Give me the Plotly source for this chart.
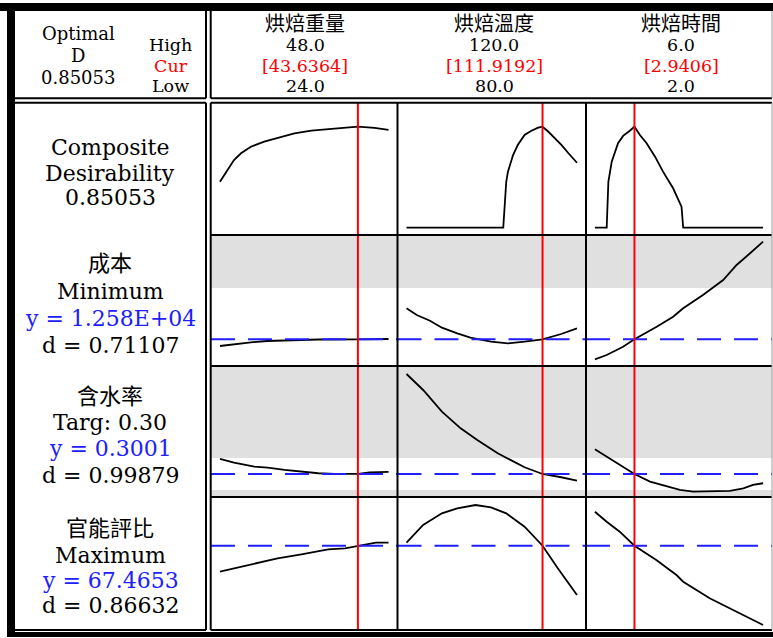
import plotly.graph_objects as go

# ---------------- data ----------------
factor_names = ["烘焙重量", "烘焙溫度", "烘焙時間"]
factor_high = ["48.0", "120.0", "6.0"]
factor_low = ["24.0", "80.0", "2.0"]
factor_cur_text = ["[43.6364]", "[111.9192]", "[2.9406]"]
factor_lo_val = [24.0, 80.0, 2.0]
factor_hi_val = [48.0, 120.0, 6.0]
factor_cur = [43.6364, 111.9192, 2.9406]

optimal_d = "0.85053"

# Composite desirability
cd_weight_x = [24.0, 24.6, 25.3, 26.0, 27.0, 28.4, 30.3, 32.2, 34.6, 37.0, 39.4, 42.2, 43.64, 46.0, 48.0]
cd_weight_y = [0.387, 0.444, 0.514, 0.570, 0.627, 0.682, 0.724, 0.758, 0.795, 0.817, 0.831, 0.842, 0.8505, 0.840, 0.823]
cd_temp_x = [80.0, 102.7, 103.4, 103.8, 105.0, 106.1, 107.7, 109.3, 110.9, 111.92, 113.3, 114.8, 116.4, 118.0, 120.0]
cd_temp_y = [0.0, 0.0, 0.387, 0.472, 0.612, 0.696, 0.781, 0.817, 0.842, 0.8505, 0.808, 0.753, 0.696, 0.627, 0.547]
cd_time_x = [2.0, 2.28, 2.32, 2.40, 2.55, 2.67, 2.83, 2.94, 3.07, 3.23, 3.43, 3.62, 3.86, 4.06, 4.10, 6.0]
cd_time_y = [0.0, 0.0, 0.387, 0.556, 0.711, 0.773, 0.817, 0.8505, 0.781, 0.711, 0.598, 0.472, 0.332, 0.177, 0.0, 0.0]

# 成本 (cost)
cost_weight_x = [24.0, 26.0, 28.4, 30.7, 34.6, 38.0, 43.64, 48.0]
cost_weight_y = [12513, 12533, 12550, 12563, 12573, 12578, 12580, 12583]
cost_temp_x = [80.0, 82.4, 85.5, 88.3, 91.9, 95.0, 99.8, 103.8, 107.7, 111.92, 116.3, 120.0]
cost_temp_y = [12890, 12823, 12766, 12696, 12640, 12596, 12556, 12540, 12556, 12580, 12633, 12690]
cost_time_x = [2.0, 2.28, 2.67, 2.94, 3.47, 3.86, 4.10, 4.57, 5.05, 5.37, 5.69, 6.0]
cost_time_y = [12380, 12423, 12506, 12580, 12706, 12806, 12890, 13023, 13173, 13323, 13440, 13556]

# 含水率 (moisture)
moist_weight_x = [24.0, 26.0, 28.9, 30.8, 33.2, 35.6, 38.0, 40.3, 43.64, 45.3, 48.0]
moist_weight_y = [0.3189, 0.3142, 0.3092, 0.3080, 0.3051, 0.3030, 0.3010, 0.3001, 0.3001, 0.3022, 0.3026]
moist_temp_x = [80.0, 83.9, 88.3, 92.7, 96.6, 101.4, 107.7, 111.92, 116.3, 120.0]
moist_temp_y = [0.4251, 0.4051, 0.3780, 0.3572, 0.3426, 0.3260, 0.3085, 0.3001, 0.2960, 0.2917]
moist_time_x = [2.0, 2.28, 2.59, 2.94, 3.31, 3.70, 4.02, 4.34, 4.73, 5.21, 5.53, 5.76, 6.0]
moist_time_y = [0.3310, 0.3217, 0.3114, 0.3001, 0.2905, 0.2851, 0.2801, 0.2780, 0.2780, 0.2789, 0.2822, 0.2864, 0.2885]

# 官能評比 (sensory score)
sens_weight_x = [24.0, 27.0, 30.3, 32.2, 35.6, 39.4, 41.8, 43.64, 46.2, 48.0]
sens_weight_y = [64.87, 65.37, 65.87, 66.21, 66.61, 67.11, 67.21, 67.47, 67.77, 67.77]
sens_temp_x = [80.0, 83.9, 88.3, 91.9, 96.2, 99.8, 103.4, 107.7, 111.92, 115.5, 120.0]
sens_temp_y = [67.77, 69.54, 70.71, 71.21, 71.54, 71.31, 70.71, 69.37, 67.47, 65.21, 62.54]
sens_time_x = [2.0, 2.28, 2.59, 2.94, 3.46, 3.94, 4.10, 4.73, 5.05, 5.53, 6.0]
sens_time_y = [70.87, 69.87, 68.87, 67.47, 66.04, 64.54, 63.87, 62.21, 61.54, 60.54, 59.54]

# response current values (blue dashed) and spec bounds (grey = d of 0)
resp_current = [None, 12580, 0.3001, 67.4653]
cost_upper = 13093
moist_lower = 0.28
moist_upper = 0.32

label_lines = [
    [("Composite", "black"), ("Desirability", "black"), ("0.85053", "black")],
    [("成本", "black"), ("Minimum", "black"), ("y = 1.258E+04", "blue"), ("d = 0.71107", "black")],
    [("含水率", "black"), ("Targ: 0.30", "black"), ("y = 0.3001", "blue"), ("d = 0.99879", "black")],
    [("官能評比", "black"), ("Maximum", "black"), ("y = 67.4653", "blue"), ("d = 0.86632", "black")],
]

curves = [
    [(cd_weight_x, cd_weight_y), (cd_temp_x, cd_temp_y), (cd_time_x, cd_time_y)],
    [(cost_weight_x, cost_weight_y), (cost_temp_x, cost_temp_y), (cost_time_x, cost_time_y)],
    [(moist_weight_x, moist_weight_y), (moist_temp_x, moist_temp_y), (moist_time_x, moist_time_y)],
    [(sens_weight_x, sens_weight_y), (sens_temp_x, sens_temp_y), (sens_time_x, sens_time_y)],
]

# ---------------- layout geometry (pixels) ----------------
W, H = 773, 638
col_px = [211.0, 397.5, 586.0, 772.0]
row_px = [102.7, 235.0, 366.0, 497.0, 630.0]
y_ranges = [[-0.0615, 1.0526], [12313, 13623], [0.2713, 0.4351], [59.04, 72.34]]

def px(x):
    return x / W

def py(y):
    return 1 - y / H

BLUE = "#2020ff"
RED = "#ff0000"
GRAY = "#e0e0e0"
FONT = "DejaVu Serif, Noto Sans CJK TC, serif"

fig = go.Figure()
layout = dict(
    width=W, height=H, margin=dict(l=0, r=0, t=0, b=0),
    paper_bgcolor="white", plot_bgcolor="rgba(0,0,0,0)", showlegend=False,
)
shapes = []
annotations = []

for r in range(4):
    for c in range(3):
        n = r * 3 + c + 1
        sfx = "" if n == 1 else str(n)
        span = factor_hi_val[c] - factor_lo_val[c]
        pad = 0.053 * span
        layout["xaxis" + sfx] = dict(
            domain=[px(col_px[c]), px(col_px[c + 1])],
            range=[factor_lo_val[c] - pad, factor_hi_val[c] + pad],
            showgrid=False, zeroline=False, showticklabels=False, showline=False,
            ticks="", anchor="y" + sfx, fixedrange=True,
        )
        layout["yaxis" + sfx] = dict(
            domain=[py(row_px[r + 1]), py(row_px[r])],
            range=y_ranges[r],
            showgrid=False, zeroline=False, showticklabels=False, showline=False,
            ticks="", anchor="x" + sfx, fixedrange=True,
        )
        xs, ys = curves[r][c]
        fig.add_trace(go.Scatter(
            x=xs, y=ys, mode="lines", xaxis="x" + sfx, yaxis="y" + sfx,
            line=dict(color="black", width=1.8), hoverinfo="skip",
        ))
        xd = "x" + sfx + " domain"
        # grey bands (desirability zero)
        if r == 1:
            shapes.append(dict(type="rect", xref=xd, yref="y" + sfx, x0=0, x1=1,
                               y0=cost_upper, y1=y_ranges[r][1], fillcolor=GRAY,
                               line=dict(width=0), layer="below"))
        if r == 2:
            shapes.append(dict(type="rect", xref=xd, yref="y" + sfx, x0=0, x1=1,
                               y0=moist_upper, y1=y_ranges[r][1], fillcolor=GRAY,
                               line=dict(width=0), layer="below"))
            shapes.append(dict(type="rect", xref=xd, yref="y" + sfx, x0=0, x1=1,
                               y0=y_ranges[r][0], y1=moist_lower, fillcolor=GRAY,
                               line=dict(width=0), layer="below"))
        # blue dashed current response line
        if resp_current[r] is not None:
            shapes.append(dict(type="line", xref=xd, yref="y" + sfx, x0=0, x1=1,
                               y0=resp_current[r], y1=resp_current[r],
                               line=dict(color=BLUE, width=2, dash="24px,13px")))

# red vertical current-setting lines
for c in range(3):
    sfx = "" if c == 0 else str(c + 1)
    shapes.append(dict(type="line", xref="x" + sfx, yref="paper",
                       x0=factor_cur[c], x1=factor_cur[c],
                       y0=py(row_px[-1]), y1=py(row_px[0]),
                       line=dict(color=RED, width=2)))

# frame lines
def hline(y, x0, x1, color="black", width=2):
    shapes.append(dict(type="line", xref="paper", yref="paper",
                       x0=px(x0), x1=px(x1), y0=py(y), y1=py(y),
                       line=dict(color=color, width=width)))

def vline(x, y0, y1, color="black", width=2):
    shapes.append(dict(type="line", xref="paper", yref="paper",
                       x0=px(x), x1=px(x), y0=py(y0), y1=py(y1),
                       line=dict(color=color, width=width)))

def fill(x0, y0, x1, y1, color="black"):
    shapes.append(dict(type="rect", xref="paper", yref="paper",
                       x0=px(x0), x1=px(x1), y0=py(y1), y1=py(y0),
                       line=dict(width=0), fillcolor=color))

# thick outer band
fill(0, 3, W, 11)
fill(7, 3, 15, 637)
fill(7, 632, W, 637)

# header boxes
hline(98.3, 15, 206)
vline(206, 11, 98.3)
hline(98.3, 210.7, 772)
vline(210.7, 11, 98.3)
vline(772, 11, 98.3, color="#999999", width=1)
# label column box
hline(102.7, 15, 206)
vline(206, 102.7, 630)
hline(630, 15, 206)
# plot area grid
hline(102.7, 210.7, 772)
vline(210.7, 102.7, 630)
for y in row_px[1:4]:
    hline(y, 210.7, 772)
hline(630, 210.7, 772)
for x in col_px[1:3]:
    vline(x, 102.7, 630)
vline(772, 102.7, 630, color="#999999", width=1)

# ---------------- text ----------------
def txt(s, x, y, color="black", size=20):
    annotations.append(dict(text=s, x=px(x), y=py(y), xref="paper", yref="paper",
                            showarrow=False, xanchor="center", yanchor="middle",
                            borderpad=0,
                            font=dict(family=FONT, size=size, color=color)))

txt("Optimal", 78, 33.5, size=18)
txt("D", 78, 55.5, size=18)
txt(optimal_d, 78, 77, size=18)
txt("High", 170, 45, size=17.5)
txt("Cur", 171, 65.5, color=RED, size=17.5)
txt("Low", 170, 86, size=17.5)

head_cx = [305, 494, 681]
for c in range(3):
    txt(factor_names[c], head_cx[c], 23.5, size=20)
    txt(factor_high[c], head_cx[c], 45, size=17.5)
    txt(factor_cur_text[c], head_cx[c], 65.5, color=RED, size=17.5)
    txt(factor_low[c], head_cx[c], 86, size=17.5)

label_y = [
    [147, 173, 198],
    [263.5, 291.5, 318.5, 345],
    [396.5, 422.5, 448.5, 475],
    [528.5, 555, 580, 605],
]
for r in range(4):
    for i, (s, col) in enumerate(label_lines[r]):
        txt(s, 110, label_y[r][i], color=BLUE if col == "blue" else "black", size=22)

layout["shapes"] = shapes
layout["annotations"] = annotations
fig.update_layout(**layout)
fig.write_html("out.html", config={"displayModeBar": False},
               post_script="document.body.style.margin='0px';")
